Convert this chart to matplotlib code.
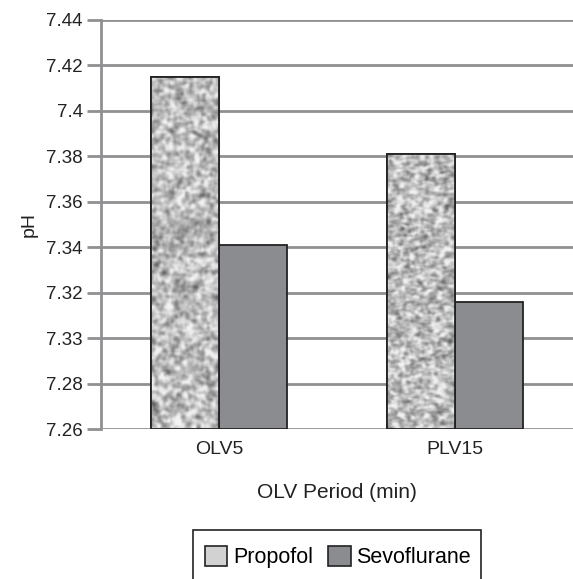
import numpy as np
import matplotlib
matplotlib.use("Agg")
import matplotlib.pyplot as plt
from matplotlib.patches import Patch, Rectangle

categories = ["OLV5", "PLV15"]
propofol = [7.415, 7.381]
sevoflurane = [7.341, 7.316]
ytick_values = [7.26, 7.28, 7.30, 7.32, 7.34, 7.36, 7.38, 7.40, 7.42, 7.44]
ytick_labels = ["7.26", "7.28", "7.33", "7.32", "7.34", "7.36", "7.38", "7.4", "7.42", "7.44"]

plt.rcParams['font.family'] = ['Liberation Sans', 'DejaVu Sans']

W, H = 573, 579
fig = plt.figure(figsize=(W / 100, H / 100), dpi=100)
ax = fig.add_axes([101/W, 150/H, 1 - 101/W, 409/H])

grid_c = '#909093'
x = np.arange(len(categories))
w = 0.288
b1 = ax.bar(x - w/2, [v - 7.26 for v in propofol], w, bottom=7.26,
            color='#c4c4c4', edgecolor='#222222', linewidth=1.3, zorder=3)
b2 = ax.bar(x + w/2, [v - 7.26 for v in sevoflurane], w, bottom=7.26,
            color='#8b8c8f', edgecolor='#222222', linewidth=1.3, zorder=3)


def smooth(a, n):
    for _ in range(n):
        p = np.pad(a, 1, mode='wrap')
        a = (p[:-2, 1:-1] + p[2:, 1:-1] + p[1:-1, :-2] + p[1:-1, 2:] + 2 * p[1:-1, 1:-1]) / 6.0
    return a


# speckle texture for Propofol bars (style only)
rng = np.random.default_rng(7)
for rect in b1:
    nrows = 220
    ncols = 42
    base = smooth(rng.random((nrows, ncols)), 3)
    fine = smooth(rng.random((nrows, ncols)), 1)
    sm = 0.7 * base + 0.3 * fine
    sm = (sm - sm.mean()) / sm.std()
    gray = 0.74 + 0.12 * sm
    gray = np.clip(gray, 0.12, 0.95)
    img = ax.imshow(gray, cmap='gray', vmin=0, vmax=1, aspect='auto',
                    extent=[rect.get_x(), rect.get_x() + rect.get_width(),
                            rect.get_y(), rect.get_y() + rect.get_height()],
                    zorder=3.5, interpolation='bicubic')
    img.set_clip_path(rect)
    ax.add_patch(Rectangle((rect.get_x(), rect.get_y()), rect.get_width(), rect.get_height(),
                           fill=False, edgecolor='#222222', linewidth=1.3, zorder=4))

ax.set_xlim(-0.5, 1.5)
ax.set_ylim(7.26, 7.44)
ax.set_yticks(ytick_values)
ax.set_yticklabels(ytick_labels)
ax.set_xticks(x)
ax.set_xticklabels(categories)
ax.yaxis.grid(True, color=grid_c, linewidth=2.0, zorder=0)
ax.set_axisbelow(True)
for s in ['top', 'right', 'bottom']:
    ax.spines[s].set_visible(False)
ax.spines['left'].set_color(grid_c)
ax.spines['left'].set_linewidth(2.0)
ax.tick_params(axis='y', length=10, width=2.0, color=grid_c, labelsize=13.5, pad=3, labelcolor='#222222')
ax.tick_params(axis='x', length=0, labelsize=14, pad=9, labelcolor='#222222')
ax.set_xlabel("OLV Period (min)", fontsize=15, color='#222222', labelpad=18)
ax.set_ylabel("pH", fontsize=14, color='#222222', labelpad=6)

handles = [Patch(facecolor='#d2d2d2', edgecolor='#222222', linewidth=1.2),
           Patch(facecolor='#8b8c8f', edgecolor='#222222', linewidth=1.2)]
leg = fig.legend(handles, ["Propofol", "Sevoflurane"], ncol=2,
                 loc='upper left', bbox_to_anchor=(193/W, 1 - 534/H),
                 fontsize=15.5, frameon=False,
                 handlelength=1.05, handleheight=1.05, handletextpad=0.25,
                 columnspacing=0.7, borderpad=0.55, borderaxespad=0)
# legend frame (extends past the bottom edge as in the reference)
fig.patches.append(Rectangle((193/W, -10/H), (481 - 193)/W, (H - 530 + 10)/H,
                             transform=fig.transFigure, fill=False,
                             edgecolor='#222222', linewidth=1.2, figure=fig))

fig.savefig("out.png", dpi=100)
